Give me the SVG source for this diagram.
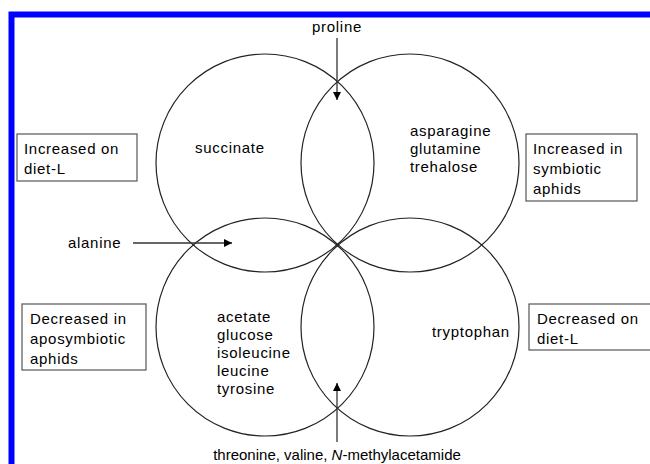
<svg xmlns="http://www.w3.org/2000/svg" width="650" height="464" viewBox="0 0 650 464">
<defs>
<marker id="ah" viewBox="0 0 10 10" refX="10" refY="5" markerWidth="8" markerHeight="8" markerUnits="userSpaceOnUse" orient="auto">
<path d="M0,0 L10,5 L0,10 z" fill="#000"/>
</marker>
<style>
text{font-family:"Liberation Sans",Arial,sans-serif;font-size:15px;letter-spacing:0.7px;fill:#000}
text.n{letter-spacing:0}
.c{fill:none;stroke:#222;stroke-width:1.2}
.b{fill:#fff;stroke:#555;stroke-width:1.2}
.a{stroke:#333;stroke-width:1.3;fill:none;marker-end:url(#ah)}
</style>
</defs>
<rect width="650" height="464" fill="#fff"/>
<path d="M11.5,464 V14.5 H650" fill="none" stroke="#0000ff" stroke-width="6"/>
<g id="circles">
<circle id="c-tl" class="c" cx="265" cy="163" r="109"/>
<circle id="c-tr" class="c" cx="410" cy="163" r="109"/>
<circle id="c-bl" class="c" cx="265" cy="327" r="109"/>
<circle id="c-br" class="c" cx="410" cy="327" r="109"/>
</g>
<g id="connectors">
<line class="a" x1="337" y1="38" x2="337" y2="100"/>
<line class="a" x1="133" y1="243" x2="232" y2="243"/>
<line class="a" x1="337" y1="442" x2="337" y2="383"/>
</g>
<g id="box-inc-dietL">
<rect class="b" x="17" y="134" width="120" height="47"/>
<text x="24" y="154">Increased on</text>
<text x="24" y="174">diet-L</text>
</g>
<g id="box-inc-sym">
<rect class="b" x="526" y="134" width="111" height="67"/>
<text x="533" y="154">Increased in</text>
<text x="533" y="174">symbiotic</text>
<text x="533" y="194">aphids</text>
</g>
<g id="box-dec-apo">
<rect class="b" x="22" y="304" width="124" height="66"/>
<text x="30" y="324">Decreased in</text>
<text x="30" y="344">aposymbiotic</text>
<text x="30" y="364">aphids</text>
</g>
<g id="box-dec-dietL">
<rect class="b" x="529" y="304" width="130" height="46"/>
<text x="537" y="324">Decreased on</text>
<text x="537" y="344">diet-L</text>
</g>
<g id="labels">
<text x="337" y="32" text-anchor="middle">proline</text>
<text x="68" y="248">alanine</text>
<text class="n" x="337" y="460" text-anchor="middle">threonine, valine, <tspan font-style="italic">N</tspan>-methylacetamide</text>
<text x="195" y="153">succinate</text>
<text x="410" y="136">asparagine</text>
<text x="410" y="154">glutamine</text>
<text x="410" y="172">trehalose</text>
<text x="217" y="322">acetate</text>
<text x="217" y="340">glucose</text>
<text x="217" y="358">isoleucine</text>
<text x="217" y="376">leucine</text>
<text x="217" y="394">tyrosine</text>
<text x="432" y="337">tryptophan</text>
</g>
</svg>
